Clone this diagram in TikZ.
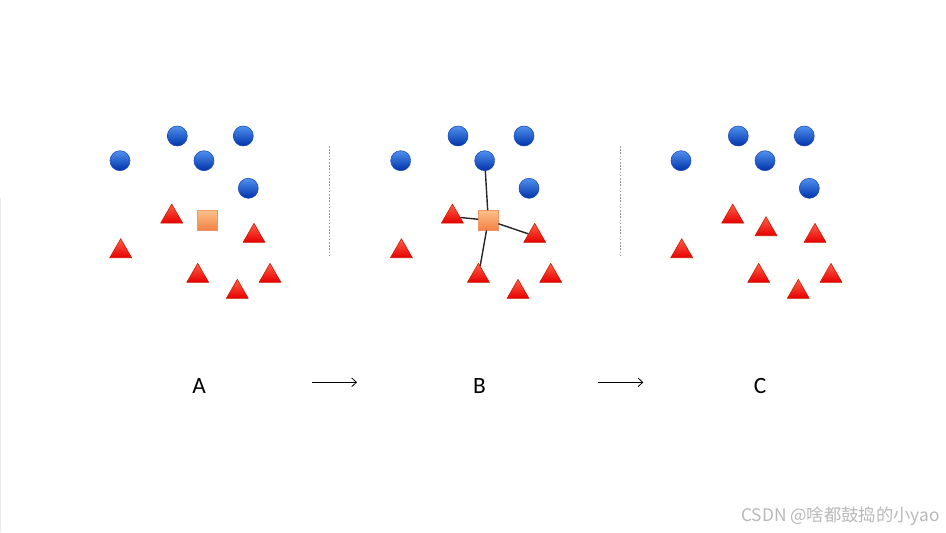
\documentclass[tikz,border=0pt]{standalone}
\usepackage{fontspec}
\setmainfont{Carlito}
\newfontfamily\cjk{Noto Sans CJK SC}
\usetikzlibrary{shapes.geometric,arrows.meta}
\definecolor{bluetop}{RGB}{80,145,238}
\definecolor{bluebot}{RGB}{0,50,170}
\definecolor{blueedge}{RGB}{20,70,185}
\definecolor{redtop}{RGB}{255,95,70}
\definecolor{redbot}{RGB}{230,0,0}
\definecolor{rededge}{RGB}{200,25,0}
\definecolor{ortop}{RGB}{252,192,135}
\definecolor{orbot}{RGB}{245,128,70}
\definecolor{oredge}{RGB}{240,150,100}
\definecolor{wmark}{RGB}{185,185,185}
\tikzset{
  ball/.style={circle,inner sep=0pt,minimum size=15pt,top color=bluetop,bottom color=bluebot,draw=blueedge,line width=0.4pt},
  tri/.style={regular polygon,regular polygon sides=3,inner sep=0pt,minimum size=19pt,top color=redtop,bottom color=redbot,draw=rededge,line width=0.4pt},
  sq/.style={rectangle,inner sep=0pt,minimum size=14.6pt,top color=ortop,bottom color=orbot,draw=oredge,line width=0.5pt},
  link/.style={draw=black!85,line width=1.05pt},
  sep/.style={draw=gray!80,line width=0.6pt,dash pattern=on 1.2pt off 1.2pt},
  flow/.style={draw=black,line width=0.6pt,-{Straight Barb[length=3.5pt,width=6.5pt]}},
  lab/.style={font=\fontsize{17.5}{20}\selectfont,inner sep=0pt}
}
\begin{document}
\begin{tikzpicture}[x=0.75pt,y=-0.75pt]
\useasboundingbox (0,0) rectangle (946,532);
\fill[white] (0,0) rectangle (946,532);
\draw[draw=black!8,line width=0.8pt] (0.5,198) -- (0.5,532);
% panels
\foreach \p/\dx in {a/0,b/280.7,c/561}{
  \node[ball] (\p c1) at (177.3+\dx,136) {};
  \node[ball] (\p c2) at (243.3+\dx,136) {};
  \node[ball] (\p c3) at (120+\dx,160.7) {};
  \node[ball] (\p c4) at (204+\dx,160.7) {};
  \node[ball] (\p c5) at (248.3+\dx,188.3) {};
  \node[tri] (\p t1) at (171.7+\dx,216.7) {};
  \node[tri] (\p t2) at (120.7+\dx,251.4) {};
  \node[tri] (\p t3) at (254+\dx,236) {};
  \node[tri] (\p t4) at (197.7+\dx,276) {};
  \node[tri] (\p t5) at (270+\dx,276) {};
  \node[tri] (\p t6) at (237.3+\dx,292) {};
}
\node[sq] (asq) at (207.5,220.3) {};
\node[sq] (bsq) at (488.3,220.3) {};
\node[tri] (ct7) at (766,229.4) {};
% links in B
\draw[link] (bsq) -- (bc4);
\draw[link] (bsq) -- (bt1);
\draw[link] (bsq) -- (bt3);
\draw[link] (bsq) -- (bt4);
% separators
\coordinate (s1a) at (329,146);
\coordinate (s1b) at (329,257);
\coordinate (s2a) at (620,146);
\coordinate (s2b) at (620,257);
\draw[sep] (s1a) -- (s1b);
\draw[sep] (s2a) -- (s2b);
% labels
\node[lab] (la) at (199,386) {A};
\node[lab] (lb) at (479.5,386) {B};
\node[lab] (lc) at (760,386) {C};
\coordinate (ar1a) at (311.7,382.3);
\coordinate (ar1b) at (357,382.3);
\coordinate (ar2a) at (598,382.3);
\coordinate (ar2b) at (643.3,382.3);
\draw[flow] (ar1a) -- (ar1b);
\draw[flow] (ar2a) -- (ar2b);
% watermark
\node[anchor=east,inner sep=0pt,text=wmark,font=\cjk\fontsize{13}{15}\selectfont] (wm) at (940,516) {CSDN @啥都鼓捣的小yao};
\end{tikzpicture}
\end{document}
